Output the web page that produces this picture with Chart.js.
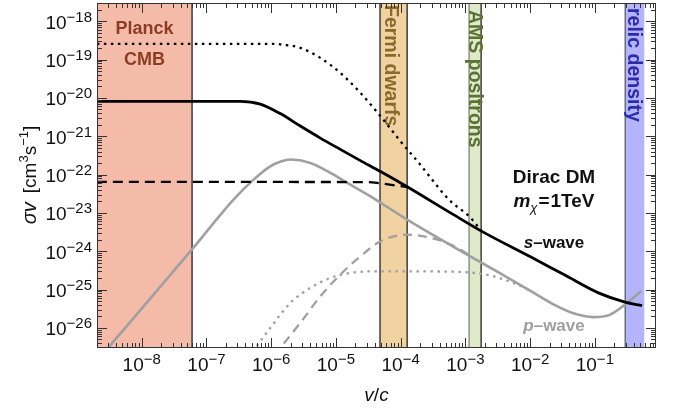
<!DOCTYPE html>
<html><head><meta charset="utf-8">
<script src="https://cdn.jsdelivr.net/npm/chart.js@4/dist/chart.umd.min.js"></script>
<style>html,body{margin:0;padding:0;background:#fff}#wrap{width:673px;height:411px;position:relative}</style>
</head><body><div id="wrap"><canvas id="c"></canvas></div>
<script>
// ---------- axis ranges and tick labels ----------
const xRange = [2.04e-9, 0.88];
const yRange = [3.0e-27, 3.0e-18];
const xTickExps = [-8, -7, -6, -5, -4, -3, -2, -1];
const yTickExps = [-26, -25, -24, -23, -22, -21, -20, -19, -18];

// ---------- constraint bands (v/c) ----------
const bandNames = ['Planck CMB', 'Fermi dwarfs', 'AMS positrons', 'relic density'];
const bandLo = [2.04e-9, 4.8e-5, 1.14e-3, 0.294];
const bandHi = [6.0e-8, 1.26e-4, 1.75e-3, 0.58];

// ---------- curves: v/c and sigma v [cm^3 s^-1] ----------
const sWaveV = [2.03e-9, 7.98e-8, 3.33e-7, 6.78e-7, 1.38e-6, 2.82e-6, 5.75e-6, 1.17e-5, 2.39e-5, 4.89e-5, 1.28e-4, 6.35e-4, 1.77e-3, 1.03e-2, 3.33e-2, 0.116, 0.292, 0.536];
const sWaveSigma = [8.18e-21, 8.18e-21, 8.18e-21, 6.92e-21, 3.91e-21, 1.85e-21, 8.97e-22, 4.55e-22, 2.32e-22, 1.2e-22, 4.75e-23, 9.33e-24, 3.36e-24, 7.05e-25, 2.47e-25, 8.1e-26, 4.72e-26, 3.83e-26];

// these curves join the main s-wave line where they end
const sDottedV = [2.03e-9, 1e-6, 1.38e-6, 2.82e-6, 5.75e-6, 1.17e-5, 2.39e-5, 4.89e-5, 9.95e-5, 1.91e-4, 5.57e-4, 1.21e-3, 1.77e-3];
const sDottedSigma = [2.57e-19, 2.57e-19, 2.5e-19, 2.02e-19, 1.11e-19, 4.5e-20, 1.36e-20, 3.33e-21, 7.4e-22, 2.02e-22, 2.23e-23, 7.4e-24, 3.36e-24];

const sDashedV = [2.03e-9, 3e-5, 4.89e-5, 9.95e-5, 1.3e-4];
const sDashedSigma = [6.45e-23, 6.4e-23, 5.9e-23, 5.0e-23, 4.65e-23];

const pWaveV = [2.04e-9, 1e-8, 6.07e-8, 2.62e-7, 5.35e-7, 9.68e-7, 1.41e-6, 1.98e-6, 4.03e-6, 8.22e-6, 1.67e-5, 3.42e-5, 1.26e-4, 1.17e-3, 3.52e-3, 1.03e-2, 2.5e-2, 5.1e-2, 9.35e-2, 0.166, 0.292, 0.518];
const pWaveSigma = [1.4e-27, 3.18e-26, 1.15e-24, 2.23e-23, 7.4e-23, 1.65e-22, 2.2e-22, 2.47e-22, 2.02e-22, 1.11e-22, 5.5e-23, 2.72e-23, 6.7e-24, 7.48e-25, 2.62e-25, 9.14e-26, 3.83e-26, 2.3e-26, 1.92e-26, 2.16e-26, 4.07e-26, 9.14e-26];

// these curves join the main p-wave line where they end
const pDashedV = [1.12e-6, 2.82e-6, 5.75e-6, 1.17e-5, 2.39e-5, 4.89e-5, 1.26e-4, 3.69e-4, 5.92e-4, 9.5e-4, 1.3e-3];
const pDashedSigma = [1.95e-27, 1.36e-26, 6.7e-26, 2.47e-25, 7.4e-25, 1.82e-24, 2.72e-24, 2.02e-24, 1.49e-24, 9.8e-25, 6.7e-25];

const pDottedV = [4.47e-7, 9.68e-7, 1.98e-6, 4.03e-6, 8.22e-6, 1.67e-5, 4.89e-5, 5.92e-4, 2.47e-3, 6.38e-3, 1.03e-2];
const pDottedSigma = [1.7e-27, 1.0e-26, 4.5e-26, 1.11e-25, 2.02e-25, 2.73e-25, 3.0e-25, 2.95e-25, 2.32e-25, 1.35e-25, 9.14e-26];

// ---------- styling ----------
const FONT = '"Liberation Sans", Arial, Helvetica, sans-serif';
const bandFill = ['#f5bba9', '#f0d3a0', '#dfeac9', '#b4b4fa'];
const bandEdgeL = [null, '#111', '#777', '#555'];
const bandEdgeR = ['#111', '#111', '#111', null];
const bandText = ['#8c3c23', '#8a6a2a', '#5b7233', '#2b2bb0'];
const BLACK = '#000';
const GRAY = '#a0a0a0';
const FRAME = '#333';

const pts = (xs, ys) => xs.map((v, i) => ({x: v, y: ys[i]}));

function rich(ctx, parts, x, y, align) {
  let w = 0;
  for (const p of parts) { ctx.font = p.f; p.w = ctx.measureText(p.t).width; w += p.w + (p.gap || 0); }
  let cx = align === 'center' ? x - w / 2 : align === 'right' ? x - w : x;
  ctx.textAlign = 'left'; ctx.textBaseline = 'alphabetic';
  for (const p of parts) {
    ctx.font = p.f; ctx.fillStyle = p.c;
    ctx.fillText(p.t, cx, y + (p.dy || 0));
    cx += p.w + (p.gap || 0);
  }
}
const pow10Label = (e, c) => [
  {t: '10', f: '19px ' + FONT, c: c},
  {t: '\u2212' + Math.abs(e), f: '15px ' + FONT, c: c, dy: -7}
];

const decor = {
  id: 'decor',
  beforeDraw(chart) {
    const ctx = chart.ctx; ctx.save(); ctx.fillStyle = '#fff';
    ctx.fillRect(0, 0, chart.width, chart.height); ctx.restore();
  },
  beforeDatasetsDraw(chart) {
    const {ctx, chartArea: a, scales: {x}} = chart;
    ctx.save();
    const cx = [];
    for (let i = 0; i < bandLo.length; i++) {
      const x0 = Math.max(a.left, x.getPixelForValue(bandLo[i]));
      const x1 = Math.min(a.right, x.getPixelForValue(bandHi[i]));
      cx.push((x0 + x1) / 2);
      ctx.fillStyle = bandFill[i];
      ctx.fillRect(x0, a.top, x1 - x0, a.bottom - a.top);
      ctx.lineWidth = 1.2;
      if (bandEdgeL[i]) { ctx.strokeStyle = bandEdgeL[i]; ctx.beginPath(); ctx.moveTo(x0, a.top); ctx.lineTo(x0, a.bottom); ctx.stroke(); }
      if (bandEdgeR[i]) { ctx.strokeStyle = bandEdgeR[i]; ctx.beginPath(); ctx.moveTo(x1, a.top); ctx.lineTo(x1, a.bottom); ctx.stroke(); }
    }
    // Planck CMB label
    ctx.fillStyle = bandText[0]; ctx.font = 'bold 18px ' + FONT;
    ctx.textAlign = 'center'; ctx.textBaseline = 'middle';
    ctx.fillText('Planck', cx[0], a.top + 26);
    ctx.fillText('CMB', cx[0], a.top + 57);
    // vertical labels
    const starts = [0, 2, 7, 5];
    const dx = [0, -2, 0, 0];
    for (let i = 1; i < 4; i++) {
      ctx.save();
      ctx.translate(cx[i] + dx[i], a.top + starts[i]);
      ctx.rotate(Math.PI / 2);
      ctx.fillStyle = bandText[i]; ctx.font = 'bold 19.5px ' + FONT;
      ctx.textAlign = 'left'; ctx.textBaseline = 'middle';
      ctx.fillText(bandNames[i], 0, 1);
      ctx.restore();
    }
    ctx.restore();
  },
  afterDraw(chart) {
    const {ctx, chartArea: a, scales: {x, y}} = chart;
    ctx.save();
    // frame
    ctx.strokeStyle = FRAME; ctx.lineWidth = 1;
    ctx.strokeRect(a.left + 0.5, a.top + 0.5, a.right - a.left - 1, a.bottom - a.top - 1);
    // ticks
    const MAJ = 10, MIN = 5;
    ctx.beginPath();
    for (let e = -9; e <= 0; e++) {
      for (let k = 1; k <= 9; k++) {
        const v = k * Math.pow(10, e);
        if (v <= xRange[0] || v >= xRange[1]) continue;
        const px = Math.round(x.getPixelForValue(v)) + 0.5;
        const L = k === 1 ? MAJ : MIN;
        ctx.moveTo(px, a.bottom); ctx.lineTo(px, a.bottom - L);
        ctx.moveTo(px, a.top); ctx.lineTo(px, a.top + L);
      }
    }
    for (let e = -27; e <= -18; e++) {
      for (let k = 1; k <= 9; k++) {
        const v = k * Math.pow(10, e);
        if (v <= yRange[0] || v >= yRange[1]) continue;
        const py = Math.round(y.getPixelForValue(v)) + 0.5;
        const L = k === 1 ? MAJ : MIN;
        ctx.moveTo(a.left, py); ctx.lineTo(a.left + L, py);
        ctx.moveTo(a.right, py); ctx.lineTo(a.right - L, py);
      }
    }
    ctx.stroke();
    // tick labels
    for (const e of xTickExps) {
      const px = x.getPixelForValue(Math.pow(10, e));
      rich(ctx, pow10Label(e, '#111'), px, a.bottom + 23, 'center');
    }
    for (const e of yTickExps) {
      const py = y.getPixelForValue(Math.pow(10, e));
      rich(ctx, pow10Label(e, '#111'), a.left - 5, py + 7.5, 'right');
    }
    // axis titles
    rich(ctx, [
      {t: 'v', f: 'italic 19px ' + FONT, c: '#111'},
      {t: '/', f: '19px ' + FONT, c: '#111'},
      {t: 'c', f: 'italic 19px ' + FONT, c: '#111'}
    ], (a.left + a.right) / 2, 401, 'center');
    ctx.save();
    ctx.translate(36, 175);
    ctx.rotate(-Math.PI / 2);
    rich(ctx, [
      {t: '\u03c3v', f: 'italic 20px ' + FONT, c: '#111', gap: 9},
      {t: '[cm', f: '19px ' + FONT, c: '#111'},
      {t: '3', f: '13px ' + FONT, c: '#111', dy: -8},
      {t: 's', f: '19px ' + FONT, c: '#111'},
      {t: '\u22121', f: '13px ' + FONT, c: '#111', dy: -8},
      {t: ']', f: '19px ' + FONT, c: '#111'}
    ], 0, 0, 'center');
    ctx.restore();
    // annotations
    const ax = 554;
    rich(ctx, [{t: 'Dirac DM', f: 'bold 19px ' + FONT, c: '#111'}], ax, 183, 'center');
    rich(ctx, [
      {t: 'm', f: 'italic bold 19px ' + FONT, c: '#111'},
      {t: '\u03c7', f: 'italic 13px ' + FONT, c: '#111', dy: 5, gap: 1},
      {t: '=', f: 'bold 19px ' + FONT, c: '#111', gap: 1},
      {t: '1TeV', f: 'bold 19px ' + FONT, c: '#111'}
    ], ax, 207, 'center');
    rich(ctx, [
      {t: 's', f: 'italic bold 17px ' + FONT, c: '#111'},
      {t: '\u2013wave', f: 'bold 17px ' + FONT, c: '#111'}
    ], ax, 248, 'center');
    rich(ctx, [
      {t: 'p', f: 'italic bold 17px ' + FONT, c: GRAY},
      {t: '\u2013wave', f: 'bold 17px ' + FONT, c: GRAY}
    ], ax, 331, 'center');
    ctx.restore();
  }
};

const line = (data, color, width, dash, order) => ({
  data, borderColor: color, borderWidth: width, borderDash: dash,
  pointRadius: 0, fill: false, cubicInterpolationMode: 'monotone', order
});

new Chart(document.getElementById('c'), {
  type: 'line',
  data: {
    datasets: [
      line(pts(sWaveV, sWaveSigma), BLACK, 2.8, [], 0),
      line(pts(sDottedV, sDottedSigma), BLACK, 2.3, [2.5, 4.5], 1),
      line(pts(sDashedV, sDashedSigma), BLACK, 2.3, [10, 6], 2),
      line(pts(pWaveV, pWaveSigma), GRAY, 2.6, [], 3),
      line(pts(pDashedV, pDashedSigma), GRAY, 2.3, [9, 6], 4),
      line(pts(pDottedV, pDottedSigma), GRAY, 2.3, [2.5, 4.5], 5)
    ]
  },
  options: {
    responsive: true, maintainAspectRatio: false, animation: false,
    devicePixelRatio: 1, events: [],
    layout: {padding: {left: 0, top: 3, right: 17, bottom: 0}},
    plugins: {legend: {display: false}, tooltip: {enabled: false}},
    scales: {
      x: {type: 'logarithmic', min: xRange[0], max: xRange[1], bounds: 'data',
          ticks: {display: false}, grid: {display: false}, border: {display: false},
          afterFit(s) { s.height = 63; }},
      y: {type: 'logarithmic', min: yRange[0], max: yRange[1], bounds: 'data',
          ticks: {display: false}, grid: {display: false}, border: {display: false},
          afterFit(s) { s.width = 97; }}
    }
  },
  plugins: [decor]
});
</script></body></html>
